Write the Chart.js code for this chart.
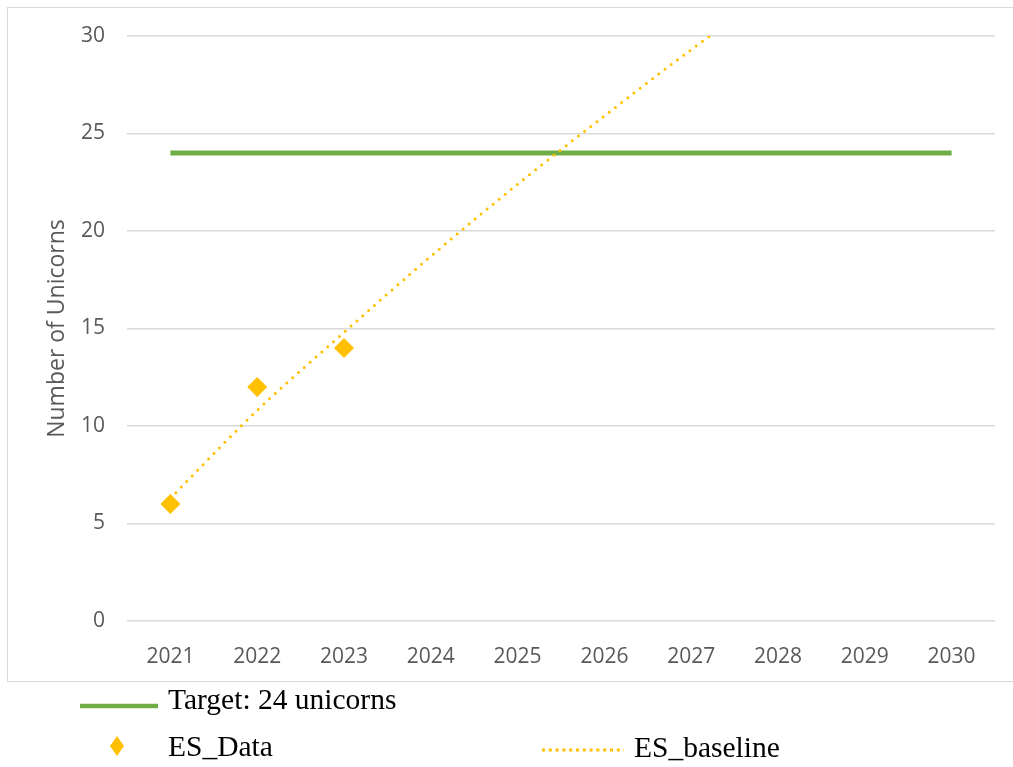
<!DOCTYPE html>
<html>
<head>
<meta charset="utf-8">
<script src="https://cdn.jsdelivr.net/npm/chart.js@4/dist/chart.umd.min.js"></script>
<style>
  html, body { margin: 0; padding: 0; background: #fff; }
  #wrap { position: relative; width: 1013px; height: 767px; overflow: hidden; }
  #frame { position: absolute; left: 7px; top: 7px; width: 1010px; height: 675px;
           border: 1.5px solid #d9d9d9; box-sizing: border-box; }
  canvas { position: absolute; left: 0; top: 0; }
  .lg { position: absolute; font-family: "Liberation Serif", "Times New Roman", serif;
        font-size: 29.5px; color: #000; white-space: nowrap; line-height: 1; }
  svg.mk { position: absolute; }
</style>
</head>
<body>
<div id="wrap">
  <div id="frame"></div>
  <canvas id="c" width="1013" height="767"></canvas>

  <svg class="mk" style="left:78px;top:700px" width="84" height="12">
    <line x1="2" y1="6" x2="80" y2="6" stroke="#70AD47" stroke-width="4.5"/>
  </svg>
  <div class="lg" style="left:168px;top:685px">Target: 24 unicorns</div>

  <svg class="mk" style="left:108px;top:735px" width="18" height="22">
    <polygon points="9,1 16,11 9,21 2,11" fill="#FFC000"/>
  </svg>
  <div class="lg" style="left:168px;top:732px">ES_Data</div>

  <svg class="mk" style="left:540px;top:744px" width="86" height="12">
    <line x1="2" y1="6" x2="84" y2="6" stroke="#FFC000" stroke-width="3" stroke-dasharray="3 3.8"/>
  </svg>
  <div class="lg" style="left:634px;top:733px">ES_baseline</div>
</div>

<script>
// Years on the horizontal axis
const years = ['2021', '2022', '2023', '2024', '2025', '2026', '2027', '2028', '2029', '2030'];

// Target level held flat across the decade
const targetValues = [24, 24, 24, 24, 24, 24, 24, 24, 24, 24];

// Observed unicorn counts
const esData = [6, 12, 14, null, null, null, null, null, null, null];

// Projected baseline trend
const esBaseline = [6.3, 10.8, 14.8, 18.7, 22.4, 25.9, 29.3, 32.5, 35.6, 38.6];

// Vertical axis range
const yMin = 0;
const yMax = 30;
const yStep = 5;

const tickFont = { family: '"Open Sans", "Liberation Sans", sans-serif', size: 21 };
const titleFont = { family: '"Open Sans", "Liberation Sans", sans-serif', size: 23 };

new Chart(document.getElementById('c'), {
  type: 'line',
  data: {
    labels: years,
    datasets: [
      {
        label: 'ES_baseline',
        data: esBaseline,
        borderColor: '#FFC000',
        borderWidth: 3,
        borderDash: [0, 7.8],
        borderCapStyle: 'round',
        cubicInterpolationMode: 'monotone',
        pointRadius: 0,
        fill: false,
        order: 2
      },
      {
        label: 'Target: 24 unicorns',
        data: targetValues,
        borderColor: '#70AD47',
        borderWidth: 5,
        pointRadius: 0,
        fill: false,
        order: 3
      },
      {
        label: 'ES_Data',
        data: esData,
        showLine: false,
        pointStyle: 'rectRot',
        pointRadius: 10,
        pointBackgroundColor: '#FFC000',
        pointBorderColor: '#FFC000',
        pointBorderWidth: 0,
        order: 1
      }
    ]
  },
  options: {
    responsive: false,
    animation: false,
    layout: { padding: { left: 0, right: 18, top: 36, bottom: 0 } },
    plugins: {
      legend: { display: false },
      tooltip: { enabled: false }
    },
    scales: {
      x: {
        offset: true,
        grid: { display: false },
        border: { display: false },
        ticks: { color: '#595959', font: tickFont, padding: 15, maxRotation: 0 },
        afterFit: (s) => { s.height = 767 - 621; }
      },
      y: {
        min: yMin,
        max: yMax,
        border: { display: false },
        grid: { color: '#d9d9d9', lineWidth: 1.5, drawTicks: false },
        ticks: { stepSize: yStep, color: '#595959', font: tickFont, padding: 22 },
        title: {
          display: true,
          text: 'Number of Unicorns',
          color: '#595959',
          font: titleFont,
          padding: { top: 44, bottom: 0 }
        },
        afterFit: (s) => { s.width = 127; }
      }
    }
  }
});
</script>
</body>
</html>
